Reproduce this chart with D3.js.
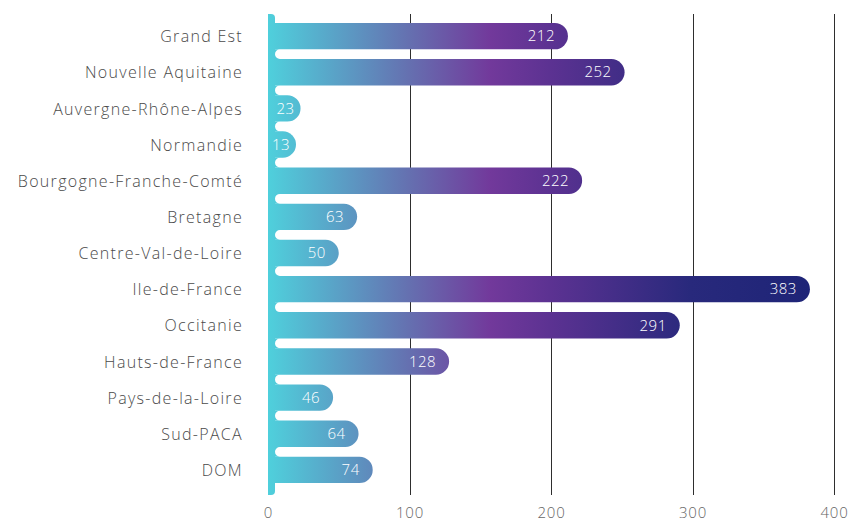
<!DOCTYPE html>
<html>
<head>
<meta charset="utf-8">
<script src="https://cdn.jsdelivr.net/npm/d3@7"></script>
<style>
    body { margin: 0; background: #fff; }
    svg text { font-family: "Open Sans", sans-serif; font-weight: 300; }
</style>
</head>
<body>
<div id="d3-container">
    <svg width="855" height="522"></svg>
</div>
<script>
    var regions = ["Grand Est", "Nouvelle Aquitaine", "Auvergne-Rhône-Alpes", "Normandie",
        "Bourgogne-Franche-Comté", "Bretagne", "Centre-Val-de-Loire", "Ile-de-France",
        "Occitanie", "Hauts-de-France", "Pays-de-la-Loire", "Sud-PACA", "DOM"];
    var values = [212, 252, 23, 13, 222, 63, 50, 383, 291, 128, 46, 64, 74];
    var ticks = [0, 100, 200, 300, 400];

    var data = regions.map(function(r, i) {
        return { region: r, value: values[i] };
    });

    var svg = d3.select("svg"),
        x0 = 268,
        yTop = 14,
        yBottom = 495;

    var x = d3.scaleLinear().domain([0, 400]).range([x0, 834]),
        y = d3.scaleBand().domain(regions).range([18, 488]).paddingInner(0.27).paddingOuter(0.135);

    var stripW = 7,
        bh = y.bandwidth(),
        r = bh / 2;

    // short bars still need room for their label
    function barEnd(d) {
        return Math.max(x(d.value), x0 + 28);
    }

    // gradient spans the whole plot, so short bars stay cyan
    var grad = svg.append("defs").append("linearGradient")
        .attr("id", "barGrad")
        .attr("gradientUnits", "userSpaceOnUse")
        .attr("x1", x(0)).attr("x2", x(383))
        .attr("y1", 0).attr("y2", 0);

    [[0, "#4fd0dc"], [0.26, "#6570b0"], [0.41, "#72399b"], [0.52, "#5c3292"],
        [0.78, "#28297c"], [1, "#1e2477"]].forEach(function(s) {
        grad.append("stop").attr("offset", s[0]).attr("stop-color", s[1]);
    });

    // grid lines
    svg.append("g")
        .selectAll("line")
        .data(ticks.slice(1))
        .enter().append("line")
        .attr("x1", function(d) { return Math.round(x(d)) + 0.5; })
        .attr("x2", function(d) { return Math.round(x(d)) + 0.5; })
        .attr("y1", yTop)
        .attr("y2", yBottom)
        .style("stroke", "#2e2e2e")
        .style("stroke-width", 1);

    var xAxis = svg.append("g")
        .attr("class", "axis axis--x")
        .attr("transform", "translate(0," + (yBottom + 18) + ")")
        .call(d3.axisBottom(x).tickValues(ticks).tickSize(0).tickPadding(0));
    xAxis.select(".domain").remove();
    xAxis.selectAll("text")
        .style("font-size", "15px")
        .style("fill", "#666")
        .style("letter-spacing", "0.8px")
        .attr("dy", "0.35em");

    var yAxis = svg.append("g")
        .attr("class", "axis axis--y")
        .attr("transform", "translate(" + (x0 - 25) + ",1)")
        .call(d3.axisLeft(y).tickSize(0).tickPadding(0));
    yAxis.select(".domain").remove();
    yAxis.selectAll("text")
        .style("font-size", "16px")
        .style("fill", "#4a4a4a")
        .style("letter-spacing", "1.3px");

    var g = svg.append("g").style("fill", "url(#barGrad)");

    // left strip with rounded top and bottom corners
    g.append("path")
        .attr("d", "M" + x0 + "," + yTop +
            "H" + (x0 + stripW - 4) +
            "A4,4 0 0 1 " + (x0 + stripW) + "," + (yTop + 4) +
            "V" + (yBottom - 4) +
            "A4,4 0 0 1 " + (x0 + stripW - 4) + "," + yBottom +
            "H" + x0 + "Z");

    // bars with round right end
    g.selectAll(".bar")
        .data(data)
        .enter().append("path")
        .attr("class", "bar")
        .attr("d", function(d) {
            var y0 = y(d.region),
                xe = barEnd(d);
            return "M" + x0 + "," + y0 +
                "H" + (xe - r) +
                "A" + r + "," + r + " 0 0 1 " + (xe - r) + "," + (y0 + bh) +
                "H" + x0 + "Z";
        });

    // fillets where bars meet the strip
    var gaps = [];
    regions.forEach(function(d, i) {
        if (i < regions.length - 1) gaps.push([y(d) + bh, y(regions[i + 1])]);
    });
    g.selectAll(".fillet")
        .data(gaps)
        .enter().append("path")
        .attr("class", "fillet")
        .attr("d", function(d) {
            var xs = x0 + stripW,
                rr = (d[1] - d[0]) / 2;
            return "M" + xs + "," + d[0] +
                "H" + (xs + rr) +
                "A" + rr + "," + rr + " 0 0 0 " + xs + "," + (d[0] + rr) +
                "A" + rr + "," + rr + " 0 0 0 " + (xs + rr) + "," + d[1] +
                "H" + xs + "Z";
        });

    // value labels
    svg.append("g")
        .selectAll("text")
        .data(data)
        .enter().append("text")
        .attr("x", function(d) {
            var xe = barEnd(d);
            return xe - (xe - x0 < 50 ? 6 : 13);
        })
        .attr("y", function(d) { return y(d.region) + bh / 2; })
        .attr("dy", "0.35em")
        .attr("text-anchor", "end")
        .style("font-size", "15px")
        .style("fill", "#fff")
        .style("letter-spacing", "0.5px")
        .text(function(d) { return d.value; });
</script>
</body>
</html>
